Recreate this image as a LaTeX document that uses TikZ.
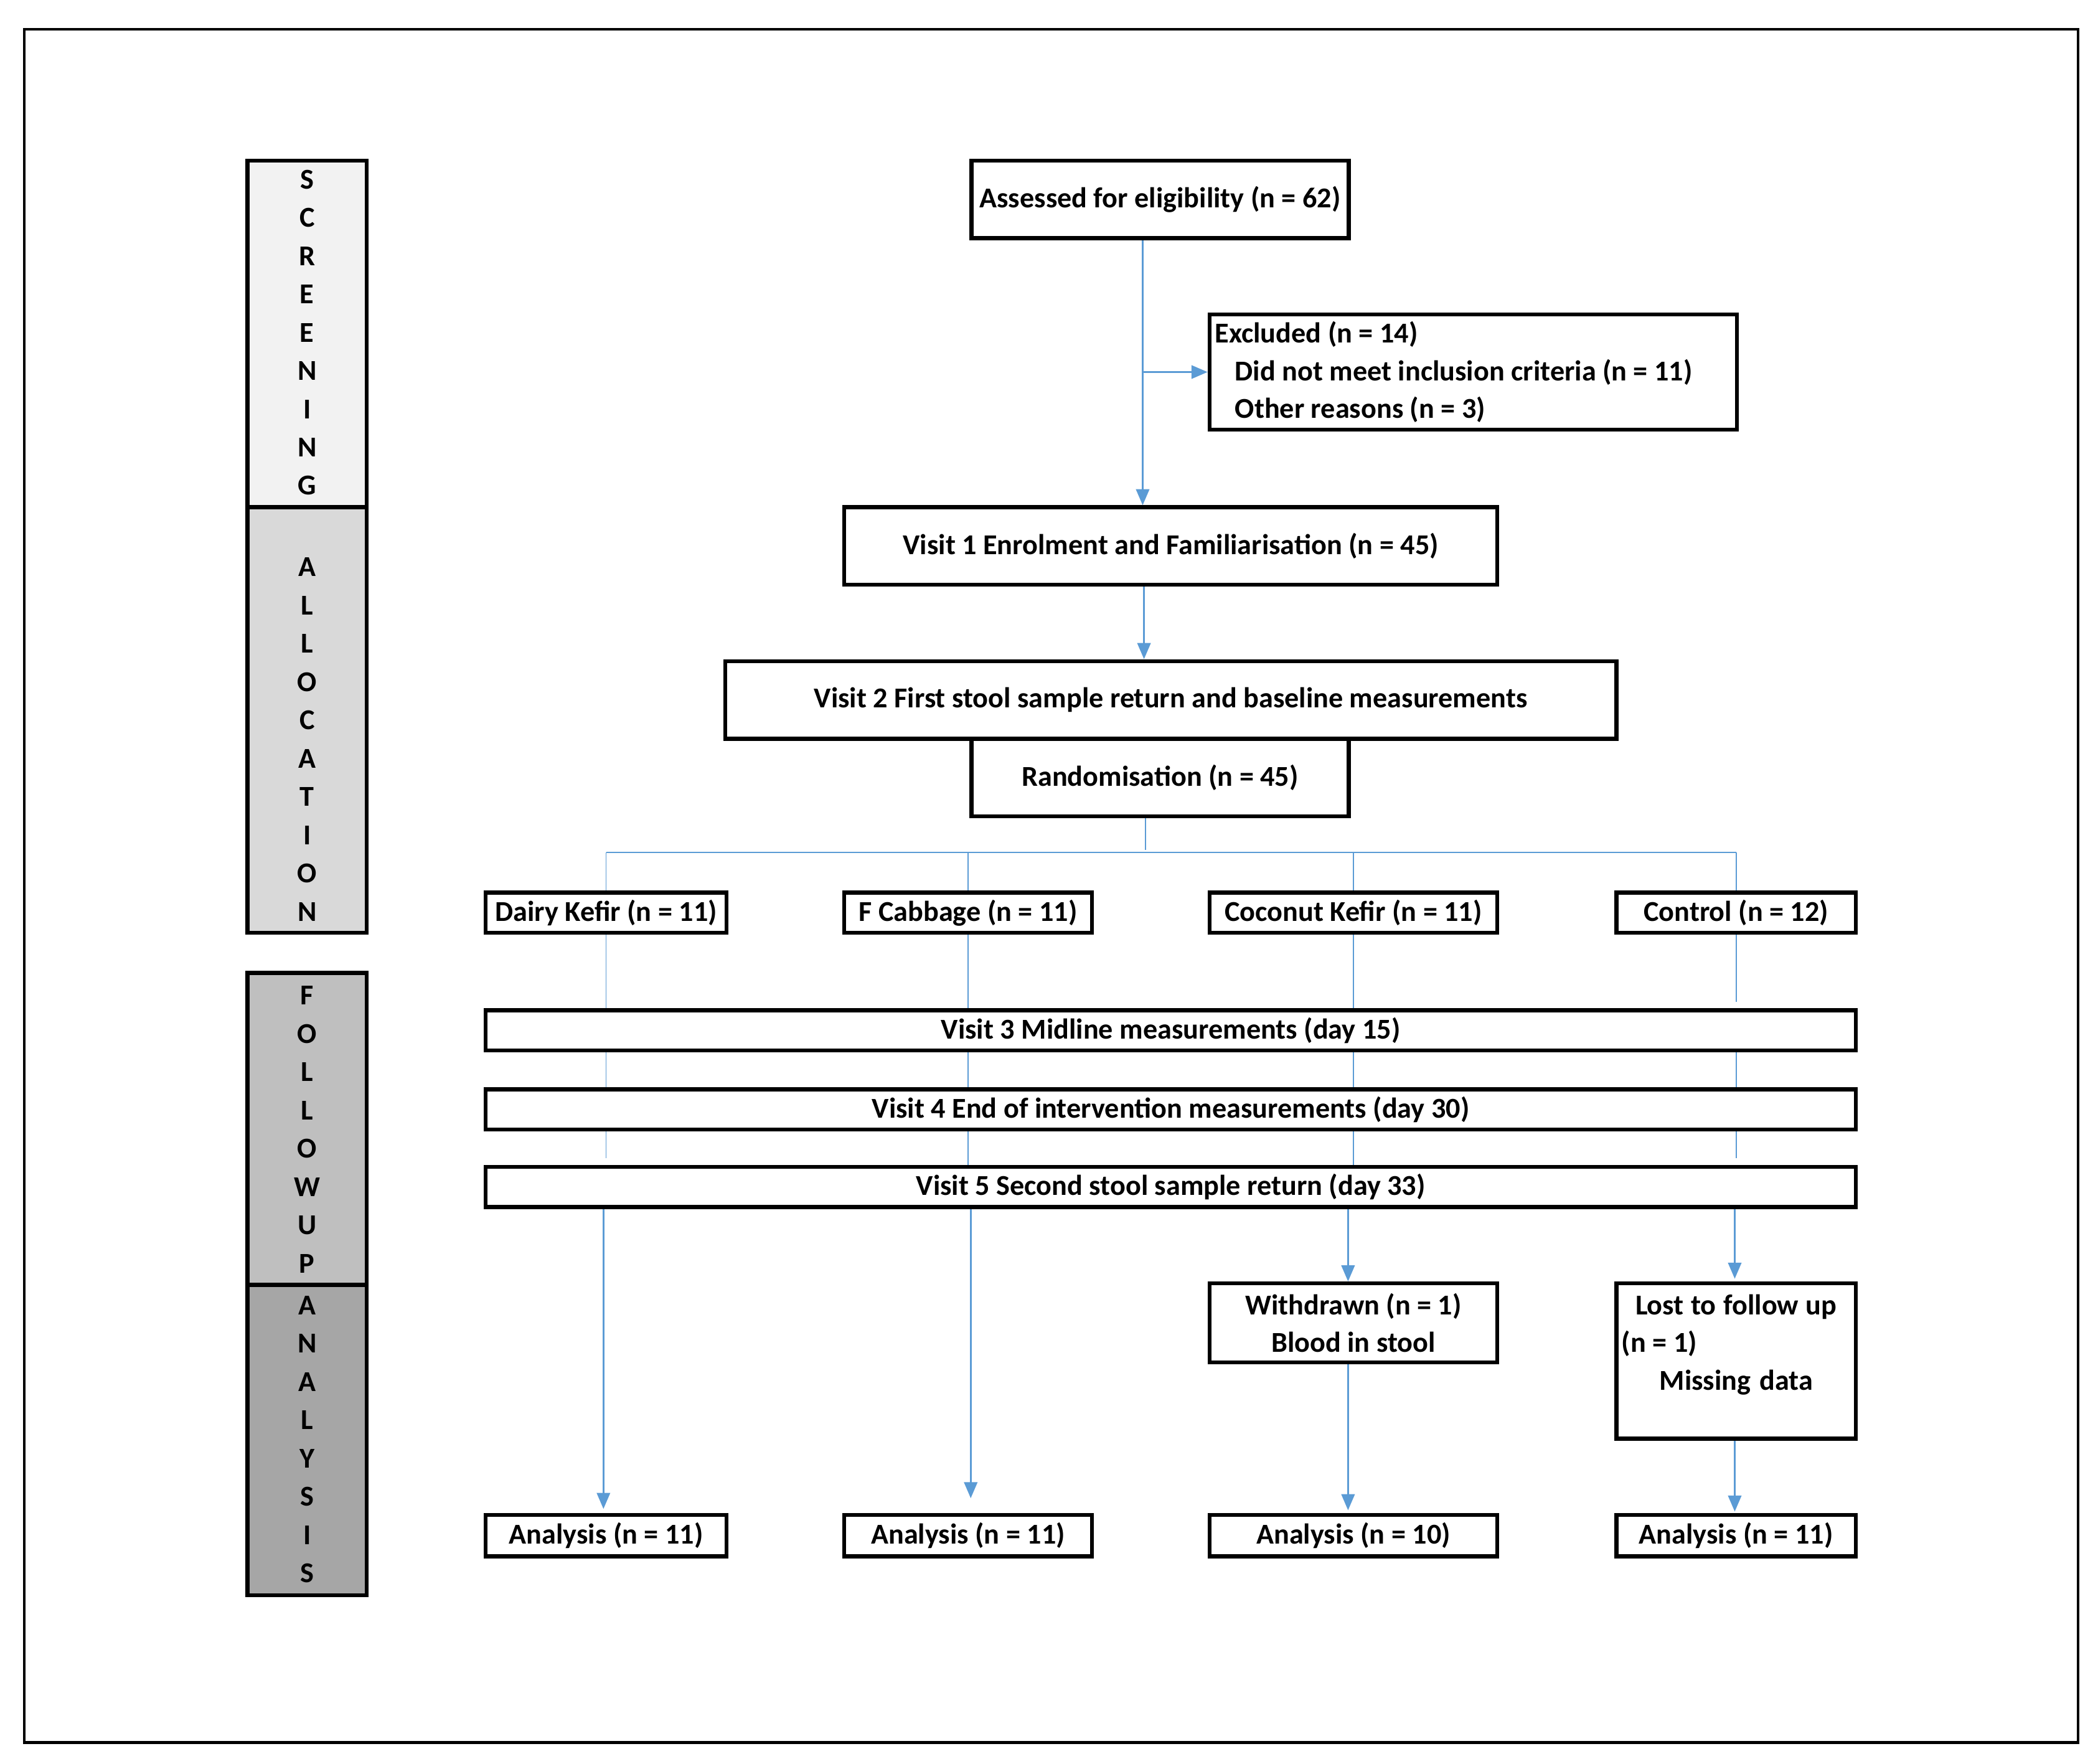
\documentclass[tikz,border=0pt]{standalone}
\usepackage{fontspec}
\setmainfont{Carlito}
\usetikzlibrary{arrows.meta}
\definecolor{cblue}{RGB}{91,155,213}
\definecolor{gA}{RGB}{242,242,242}
\definecolor{gB}{RGB}{217,217,217}
\definecolor{gC}{RGB}{191,191,191}
\definecolor{gD}{RGB}{166,166,166}
\newcommand{\natsp}{\spaceskip=0pt\xspaceskip=0pt\relax}
\begin{document}
\begin{tikzpicture}[x=1pt,y=-1pt,
  font=\fontsize{21.5}{28}\selectfont\bfseries,
  box/.style={draw=black, line width=3pt, inner sep=0pt, align=center, fill=white},
  stagebox/.style={draw=black, line width=3pt, inner sep=0pt, minimum width=89pt},
  letters/.style={inner sep=0pt, align=center, font=\fontsize{21.5}{28.6}\selectfont\bfseries},
  arr/.style={draw=cblue, line width=1.2pt, -{Triangle[length=12pt,width=10pt]}},
  link/.style={draw=cblue, line width=0.8pt},
  split/.style={draw=cblue, line width=1.3pt}]
\useasboundingbox (0,0) rectangle (1568,1318);
\node[draw=black, line width=2pt, minimum width=1535pt, minimum height=1280pt, inner sep=0pt] (frame) at (785.5,662) {};

% stage column
\node[stagebox, fill=gA, minimum height=259pt] (scr) at (229.5,249.5) {};
\node[stagebox, fill=gB, minimum height=318pt] (alloc) at (229.5,538) {};
\node[stagebox, fill=gC, minimum height=233pt] (fol) at (229.5,843.5) {};
\node[stagebox, fill=gD, minimum height=232pt] (ana) at (229.5,1076) {};
\node[letters] (scrt) at (229.5,248.5) {S\\C\\R\\E\\E\\N\\I\\N\\G};
\node[letters] (alloct) at (229.5,552.5) {A\\L\\L\\O\\C\\A\\T\\I\\O\\N};
\node[letters] (folt) at (229.5,844) {F\\O\\L\\L\\O\\W\\U\\P};
\node[letters] (anat) at (229.5,1075.5) {A\\N\\A\\L\\Y\\S\\I\\S};

% main boxes
\node[box, minimum width=282pt, minimum height=58pt] (assess) at (867,149) {Assessed for eligibility (n = 62)};
\node[box, minimum width=394pt, minimum height=86pt, text width=386pt, align=left] (excl) at (1101,278)
  {\natsp Excluded (n = 14)\\\hspace*{15pt}Did not meet inclusion criteria (n = 11)\\\hspace*{15pt}Other reasons (n = 3)};
\node[box, minimum width=488pt, minimum height=58pt] (v1) at (875,408) {Visit 1 Enrolment and Familiarisation (n = 45)};
\node[box, minimum width=666pt, minimum height=58pt] (v2) at (875,523) {Visit 2 First stool sample return and baseline measurements};
\node[box, minimum width=282pt, minimum height=58pt] (rand) at (867,581) {Randomisation (n = 45)};

\node[box, minimum width=180pt, minimum height=30pt] (dairy) at (453,682) {Dairy Kefir (n = 11)};
\node[box, minimum width=185pt, minimum height=30pt] (cab) at (723.5,682) {F Cabbage (n = 11)};
\node[box, minimum width=215pt, minimum height=30pt] (coco) at (1011.5,682) {Coconut Kefir (n = 11)};
\node[box, minimum width=179pt, minimum height=30pt] (ctrl) at (1297.5,682) {Control (n = 12)};

\node[box, minimum width=1024pt, minimum height=30pt] (v3) at (875,770) {Visit 3 Midline measurements (day 15)};
\node[box, minimum width=1024pt, minimum height=30pt] (v4) at (875,829) {Visit 4 End of intervention measurements (day 30)};
\node[box, minimum width=1024pt, minimum height=30pt] (v5) at (875,887) {Visit 5 Second stool sample return (day 33)};

\node[box, minimum width=215pt, minimum height=59pt] (wd) at (1011.5,988.5) {Withdrawn (n = 1)\\Blood in stool};
\node[box, minimum width=179pt, minimum height=116pt, text width=171pt] (lost) at (1297.5,1017)
  {\natsp Lost to follow up\\\makebox[171pt][l]{(n = 1)}\\Missing data\\\mbox{}};

\node[box, minimum width=180pt, minimum height=31pt] (an1) at (453,1147.5) {Analysis (n = 11)};
\node[box, minimum width=185pt, minimum height=31pt] (an2) at (723.5,1147.5) {Analysis (n = 11)};
\node[box, minimum width=215pt, minimum height=31pt] (an3) at (1011.5,1147.5) {Analysis (n = 10)};
\node[box, minimum width=179pt, minimum height=31pt] (an4) at (1297.5,1147.5) {Analysis (n = 11)};

% connectors: screening
\draw[arr] ([xshift=-13pt]assess.south) -- ([xshift=-13pt]assess.south |- v1.north);
\draw[arr] ([xshift=-13pt]assess.south |- excl.west) -- (excl.west);
\draw[arr] ([xshift=-20pt]v1.south) -- ([xshift=-20pt]v1.south |- v2.north);

% randomisation split
\coordinate (sp) at (856,637);
\draw[link] ([xshift=-11pt]rand.south) -- ([yshift=2pt]sp);
\draw[split] (dairy.north |- sp) -- (ctrl.north |- sp);
\foreach \g in {dairy,cab,coco,ctrl}{
  \draw[link] (\g.north |- sp) -- (\g.north);
}

% through the follow-up visits
\foreach \g in {dairy,cab,coco}{
  \draw[link] (\g.south) -- (\g.south |- v3.north);
  \draw[link] (\g.south |- v3.south) -- (\g.south |- v4.north);
}
\draw[link, shorten >=5pt] (ctrl.south) -- (ctrl.south |- v3.north);
\draw[link] (ctrl.south |- v3.south) -- (ctrl.south |- v4.north);
\draw[link, shorten >=5pt] (dairy.south |- v4.south) -- (dairy.south |- v5.north);
\draw[link] (cab.south |- v4.south) -- (cab.south |- v5.north);
\draw[link] (coco.south |- v4.south) -- (coco.south |- v5.north);
\draw[link, shorten >=5pt] (ctrl.south |- v4.south) -- (ctrl.south |- v5.north);

% analysis
\draw[arr, shorten >=3pt] ([xshift=-2pt]an1.north |- v5.south) -- ([xshift=-2pt]an1.north);
\draw[arr, shorten >=11pt] ([xshift=2pt]an2.north |- v5.south) -- ([xshift=2pt]an2.north);
\draw[arr] ([xshift=-4pt]wd.north |- v5.south) -- ([xshift=-4pt]wd.north);
\draw[arr, shorten >=2pt] ([xshift=-4pt]wd.south) -- ([xshift=-4pt]an3.north);
\draw[arr, shorten >=2pt] ([xshift=-1pt]lost.north |- v5.south) -- ([xshift=-1pt]lost.north);
\draw[arr, shorten >=1pt] ([xshift=-1pt]lost.south) -- ([xshift=-1pt]an4.north);
\end{tikzpicture}
\end{document}
